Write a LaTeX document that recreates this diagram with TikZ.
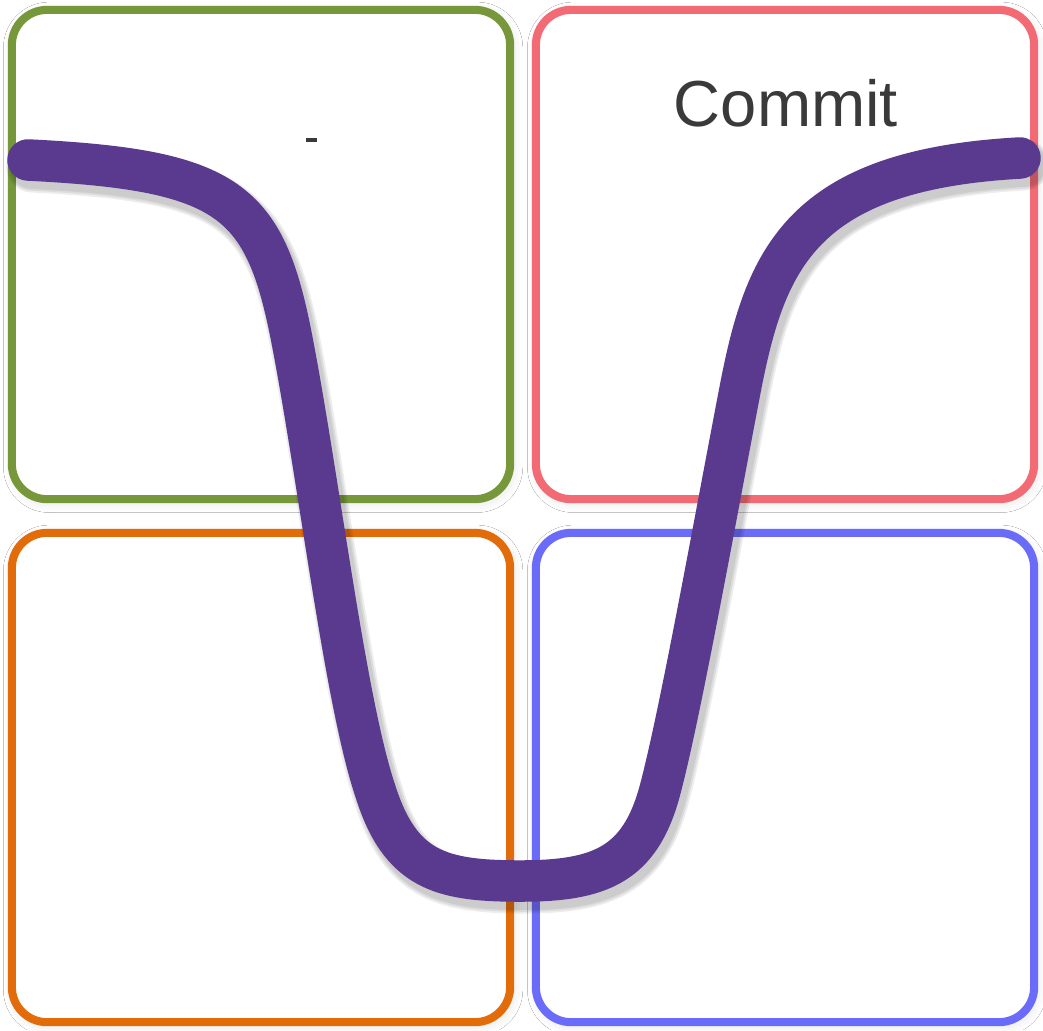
\documentclass[tikz,border=0pt]{standalone}
\usepackage{fontspec}
\setmainfont{Liberation Sans}
\usetikzlibrary{shadows.blur}

\definecolor{boxgreen}{HTML}{76983A}
\definecolor{boxred}{HTML}{F26A74}
\definecolor{boxorange}{HTML}{E36C0A}
\definecolor{boxblue}{HTML}{6B6BFA}
\definecolor{curvepurple}{HTML}{5A3A8E}
\definecolor{textgray}{HTML}{3A3A3A}

\tikzset{
  quad/.style={draw, fill=white, rectangle, rounded corners=10pt, line width=2.3pt,
    minimum width=4.98cm, minimum height=4.89cm, inner sep=0pt, outer sep=0pt,
    blur shadow={shadow xshift=0.6pt, shadow yshift=-0.8pt, shadow blur radius=3pt, shadow opacity=12}},
  vline/.style={line width=11.8pt, line cap=round, line join=round}
}

\newcommand{\vcurve}{(28,160) .. controls (230,170) and (265,200) .. (292,340)
  .. controls (319,480) and (345,700) .. (375,790)
  .. controls (400,870) and (440,881) .. (520,881)
  .. controls (600,881) and (640,865) .. (660,790)
  .. controls (680,715) and (715,520) .. (740,390)
  .. controls (765,260) and (800,170) .. (1020,158)}

\begin{document}
\begin{tikzpicture}[x=0.01cm, y=-0.01cm]
        \useasboundingbox[fill=white] (0,0) rectangle (1043,1030);

        % the four quadrants
        \node[quad, draw=boxgreen] at (261, 254.5) (plan) {};
        \node[quad, draw=boxred] at (785, 254.5) (commit) {};
        \node[quad, draw=boxorange] at (261, 777.5) (build) {};
        \node[quad, draw=boxblue] at (785, 777.5) (test) {};

        \node[font=\fontsize{18.5}{20}\selectfont, text=textgray] at (786, 103) (committext) {Commit};
        \draw[textgray, line width=1.1pt] (306,140) -- (317,140);

        % soft shadow under the curve
        \foreach \w in {14.5, 13.5, 12.5} {
          \draw[vline, line width=\w pt, black, opacity=0.07, shift={(4,7)}] \vcurve;
        }
        \draw[vline, curvepurple] \vcurve;

        \end{tikzpicture}
\end{document}
